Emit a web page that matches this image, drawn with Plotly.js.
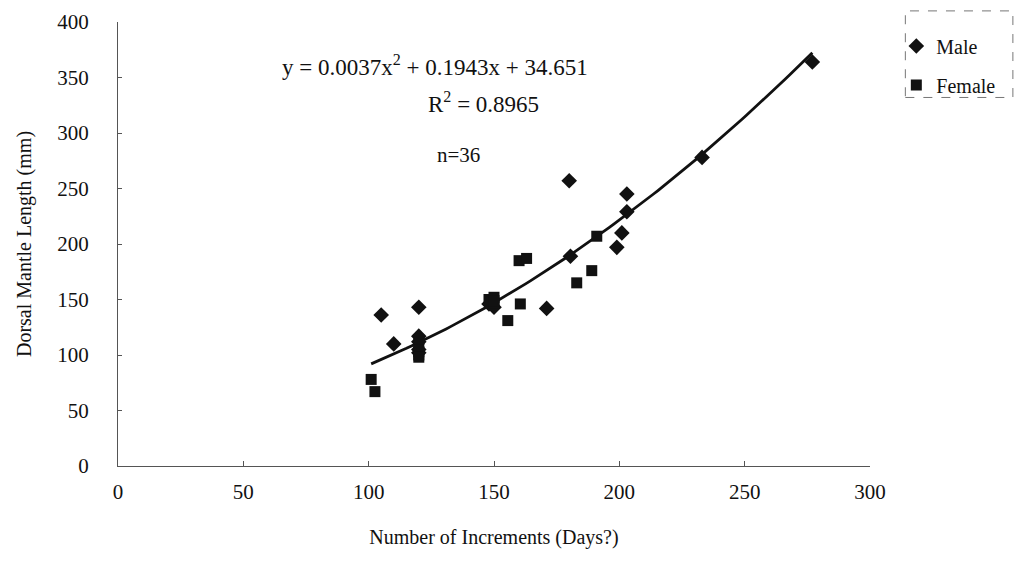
<!DOCTYPE html>
<html>
<head>
<meta charset="utf-8">
<script src="https://cdn.plot.ly/plotly-3.0.1.min.js"></script>
<style>html,body{margin:0;padding:0;background:#fff;}#chart{width:1017px;height:573px;}</style>
</head>
<body>
<div id="chart"></div>
<script>
// Data
const maleX = [105, 110, 120, 120, 120, 120, 120, 148, 150, 171, 180, 180.5, 199, 201, 203, 203, 233, 277];
const maleY = [136, 110, 143, 117, 112, 105, 102, 146, 143, 142, 257, 189, 197, 210, 229, 245, 278, 364];
const femaleX = [101, 102.5, 120, 120, 120, 120, 148, 150, 150, 150, 155.5, 160.5, 160, 163, 183, 189, 191, 120];
const femaleY = [78, 67, 100, 103, 108, 114, 150, 152, 147, 149, 131, 146, 185, 187, 165, 176, 207, 98];
// Polynomial trendline coefficients as printed on the chart: y = a x^2 + b x + c
const trendCoef = [0.0037, 0.1943, 34.651];
const trendRange = [101, 277];
const xTicks = [0, 50, 100, 150, 200, 250, 300];
const yTicks = [0, 50, 100, 150, 200, 250, 300, 350, 400];

const tx = [], ty = [];
for (let i = 0; i <= 100; i++) {
  const x = trendRange[0] + (trendRange[1] - trendRange[0]) * i / 100;
  tx.push(x);
  ty.push(trendCoef[0] * x * x + trendCoef[1] * x + trendCoef[2]);
}

const serif = 'Liberation Serif';
const ink = '#111';

const traces = [
  {x: tx, y: ty, mode: 'lines', line: {color: ink, width: 2.8}, showlegend: false, hoverinfo: 'skip'},
  {x: maleX, y: maleY, mode: 'markers', name: 'Male', legendgroup: 'm',
   marker: {symbol: 'diamond', size: 12, color: ink}},
  {x: femaleX, y: femaleY, mode: 'markers', name: 'Female', legendgroup: 'f',
   marker: {symbol: 'square', size: 11, color: ink}}
];

const layout = {
  width: 1017, height: 573,
  margin: {l: 118, r: 147, t: 22, b: 107},
  paper_bgcolor: '#fff', plot_bgcolor: '#fff',
  font: {family: serif, size: 20, color: ink},
  xaxis: {
    range: [0, 300], tickvals: xTicks, ticktext: xTicks.map(String),
    tickfont: {family: serif, size: 21, color: ink},
    showgrid: false, zeroline: false, showline: true, linecolor: '#555', linewidth: 1,
    ticks: 'inside', ticklen: 5, tickcolor: '#555', ticklabelstandoff: 7,
    title: {text: 'Number of Increments (Days?)', font: {family: serif, size: 20, color: ink}, standoff: 26},
    automargin: false
  },
  yaxis: {
    range: [0, 400], tickvals: yTicks, ticktext: yTicks.map(String),
    tickfont: {family: serif, size: 21, color: ink},
    showgrid: false, zeroline: false, showline: true, linecolor: '#555', linewidth: 1,
    ticks: 'inside', ticklen: 4, tickcolor: '#555', ticklabelstandoff: 24,
    title: {text: 'Dorsal Mantle Length (mm)', font: {family: serif, size: 20, color: ink}, standoff: 20},
    automargin: false
  },
  showlegend: true,
  legend: {
    x: 1.035, y: 0.99, xanchor: 'left', yanchor: 'top',
    bgcolor: 'rgba(0,0,0,0)', borderwidth: 0,
    font: {family: serif, size: 20, color: ink},
    traceorder: 'grouped', tracegroupgap: 10, itemwidth: 30
  },
  shapes: [
    {type: 'rect', xref: 'paper', yref: 'paper', x0: 1.047, x1: 1.19, y0: 0.83, y1: 1.025,
     line: {color: '#777', width: 1, dash: 'dash'}}
  ],
  annotations: [
    {xref: 'x', yref: 'paper', x: 64.5, y: 0.903, xanchor: 'left', yanchor: 'middle', showarrow: false,
     text: 'y = 0.0037x<sup>2</sup> + 0.1943x + 34.651', font: {family: serif, size: 23, color: ink}},
    {xref: 'x', yref: 'paper', x: 146, y: 0.818, xanchor: 'center', yanchor: 'middle', showarrow: false,
     text: 'R<sup>2</sup> = 0.8965', font: {family: serif, size: 23, color: ink}},
    {xref: 'x', yref: 'paper', x: 136, y: 0.70, xanchor: 'center', yanchor: 'middle', showarrow: false,
     text: 'n=36', font: {family: serif, size: 21, color: ink}}
  ]
};

Plotly.newPlot('chart', traces, layout, {displayModeBar: false, staticPlot: true});
</script>
</body>
</html>
